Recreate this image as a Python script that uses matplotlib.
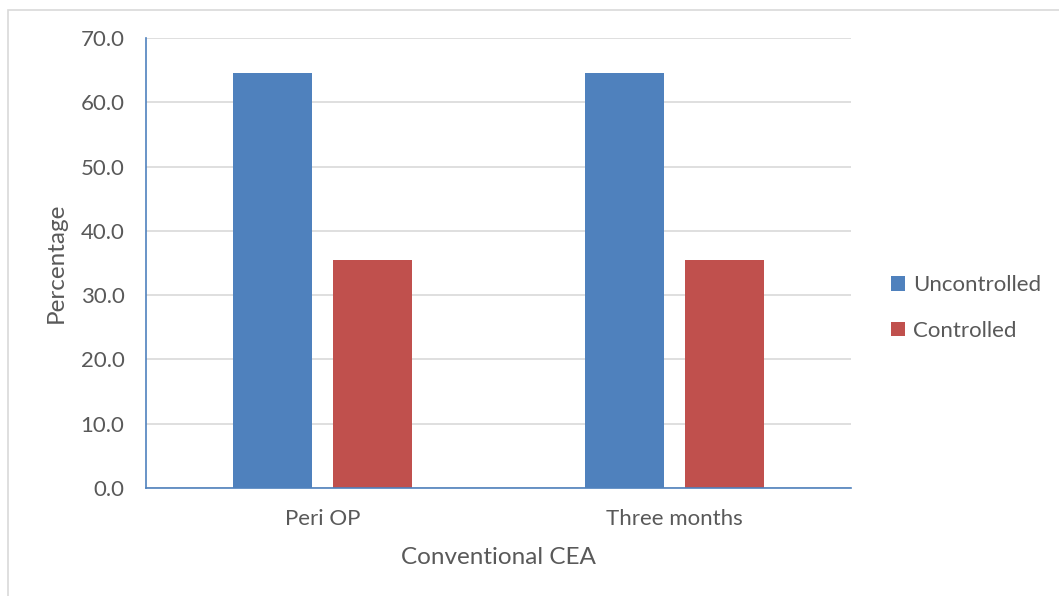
import matplotlib
matplotlib.use("Agg")
import matplotlib.pyplot as plt
import numpy as np
from matplotlib.patches import Rectangle

categories = ["Peri OP", "Three months"]
uncontrolled = [64.5, 64.5]
controlled = [35.5, 35.5]
series_names = ["Uncontrolled", "Controlled"]
yticks = [0, 10, 20, 30, 40, 50, 60, 70]

BLUE = "#4F81BD"
RED = "#C0504D"
GRID = "#D9D9D9"
TEXT = "#595959"

plt.rcParams["font.family"] = ["Lato", "DejaVu Sans"]

W, H = 1059, 596
fig = plt.figure(figsize=(W / 100, H / 100), dpi=100)
fig.patch.set_facecolor("white")

# outer chart border
fig.patches.append(Rectangle((7.5 / W, -0.1), 1.2, 1 - 9.5 / H + 0.1,
                             transform=fig.transFigure, fill=False,
                             edgecolor=GRID, linewidth=1.2))

ax = fig.add_axes([146 / W, 1 - 488 / H, (851 - 146) / W, (488 - 38) / H])

x = np.arange(len(categories))
bw = 0.224
off = 0.142
ax.bar(x - off, uncontrolled, bw, color=BLUE, label=series_names[0], zorder=3)
ax.bar(x + off, controlled, bw, color=RED, label=series_names[1], zorder=3)

ax.set_xlim(-0.5, len(categories) - 0.5)
ax.set_ylim(0, 70)
ax.set_yticks(yticks)
ax.set_yticklabels([f"{v:.1f}" for v in yticks])
ax.set_xticks(x)
ax.set_xticklabels(categories)

ax.yaxis.grid(True, color=GRID, linewidth=1.2, zorder=0)
ax.set_axisbelow(True)
for s in ["top", "right"]:
    ax.spines[s].set_visible(False)
for s in ["left", "bottom"]:
    ax.spines[s].set_color(BLUE)
    ax.spines[s].set_linewidth(1.2)
    ax.spines[s].set_zorder(4)

ax.tick_params(axis="both", length=0, labelsize=16, colors=TEXT)
ax.tick_params(axis="y", pad=15.5)
ax.tick_params(axis="x", pad=15)

ax.set_ylabel("Percentage", fontsize=17.5, color=TEXT, labelpad=10)
ax.set_xlabel("Conventional CEA", fontsize=17.5, color=TEXT, labelpad=13)

leg = ax.legend(loc="center left", bbox_to_anchor=(1.028, 0.40), frameon=False,
                fontsize=16, handlelength=0.62, handleheight=0.62,
                handletextpad=0.4, labelspacing=1.15, labelcolor=TEXT)

fig.savefig("out.png", dpi=100, facecolor="white")
